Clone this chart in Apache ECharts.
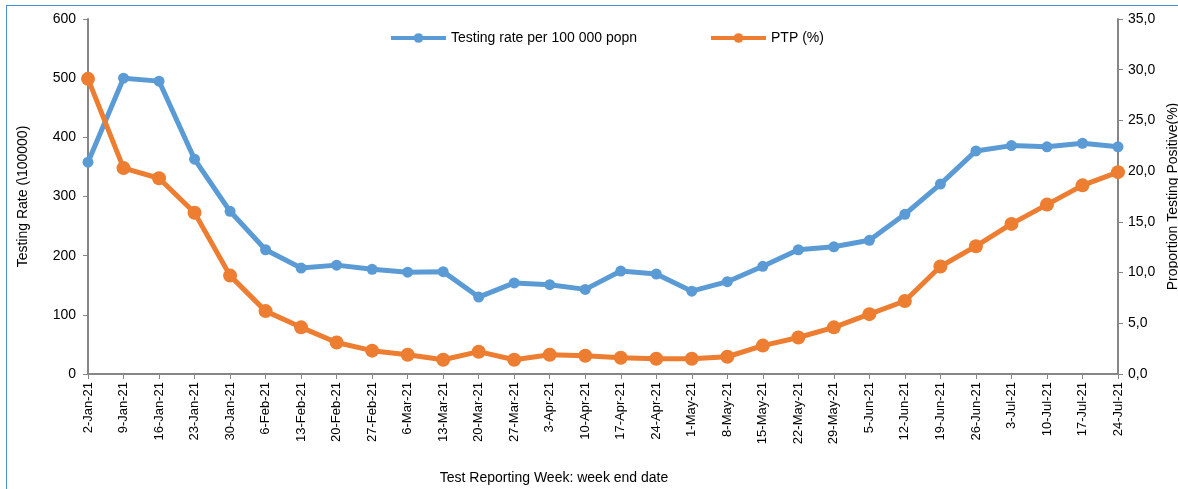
<!DOCTYPE html>
<html>
<head>
<meta charset="utf-8">
<script src="https://cdn.jsdelivr.net/npm/echarts@6/dist/echarts.min.js"></script>
<style>
  html, body { margin: 0; padding: 0; background: #fff; overflow: hidden; width: 1178px; height: 489px; }
  .frame {
    position: absolute; left: 6px; top: 5px; width: 1172px; height: 484px;
    border-left: 1px solid #4a8fd4; border-top: 1px solid #4a8fd4; box-sizing: border-box;
  }
  #main { position: absolute; left: 0; top: 0; width: 1178px; height: 489px; }
</style>
</head>
<body>
<div class="frame"></div>
<div id="main"></div>
<script>
  // week end dates
  var weeks = ['2-Jan-21','9-Jan-21','16-Jan-21','23-Jan-21','30-Jan-21','6-Feb-21','13-Feb-21',
    '20-Feb-21','27-Feb-21','6-Mar-21','13-Mar-21','20-Mar-21','27-Mar-21','3-Apr-21','10-Apr-21',
    '17-Apr-21','24-Apr-21','1-May-21','8-May-21','15-May-21','22-May-21','29-May-21','5-Jun-21',
    '12-Jun-21','19-Jun-21','26-Jun-21','3-Jul-21','10-Jul-21','17-Jul-21','24-Jul-21'];

  // testing rate per 100 000 popn
  var testingRate = [358, 500, 495, 363, 275, 210, 179, 184, 177, 172, 173, 130, 154, 151, 143,
    174, 169, 140, 156, 182, 210, 215, 226, 270, 321, 377, 386, 384, 390, 384];

  // PTP (%)
  var ptp = [29.1, 20.3, 19.3, 15.9, 9.7, 6.2, 4.6, 3.1, 2.3, 1.9, 1.4, 2.2, 1.4, 1.9, 1.8,
    1.6, 1.5, 1.5, 1.7, 2.8, 3.6, 4.6, 5.9, 7.2, 10.6, 12.6, 14.8, 16.7, 18.6, 19.9];

  var font = 'Liberation Sans';
  var axisGray = '#868686';

  var chart = echarts.init(document.getElementById('main'));
  chart.setOption({
    animation: false,
    textStyle: { fontFamily: font },
    legend: {
      top: 26,
      left: 384,
      itemWidth: 55,
      itemHeight: 12,
      itemGap: 72,
      lineStyle: { width: 4 },
      textStyle: { fontSize: 14, color: '#000', fontFamily: font },
      data: ['Testing rate per 100 000 popn', 'PTP (%)']
    },
    grid: { left: 88, right: 60, top: 19, bottom: 115, containLabel: false, outerBoundsMode: 'none' },
    xAxis: {
      type: 'category',
      data: weeks,
      boundaryGap: false,
      name: 'Test Reporting Week: week end date',
      nameLocation: 'middle',
      nameGap: 97,
      nameTextStyle: { fontSize: 14, color: '#000', padding: [0, 98, 0, 0] },
      axisLine: { lineStyle: { color: axisGray, width: 2 } },
      axisTick: { show: true, alignWithLabel: true, length: 5, lineStyle: { color: axisGray } },
      axisLabel: { rotate: 90, fontSize: 13, color: '#000', margin: 8, interval: 0 }
    },
    yAxis: [{
      type: 'value',
      min: 0, max: 600, interval: 100,
      name: 'Testing Rate (\\100000)',
      nameLocation: 'middle',
      nameGap: 58,
      nameTextStyle: { fontSize: 14, color: '#000' },
      splitLine: { show: false },
      axisLine: { show: true, lineStyle: { color: axisGray, width: 2 } },
      axisTick: { show: true, length: 5, lineStyle: { color: axisGray } },
      axisLabel: { fontSize: 14, color: '#000', margin: 12 }
    }, {
      type: 'value',
      min: 0, max: 35, interval: 5,
      name: 'Proportion Testing Positive(%)',
      nameLocation: 'middle',
      nameGap: 39,
      nameRotate: 90,
      nameTextStyle: { fontSize: 14, color: '#000' },
      splitLine: { show: false },
      axisLine: { show: true, lineStyle: { color: axisGray, width: 2 } },
      axisTick: { show: true, length: 5, lineStyle: { color: axisGray } },
      axisLabel: {
        fontSize: 14, color: '#000', margin: 10,
        formatter: function (v) { return v.toFixed(1).replace('.', ','); }
      }
    }],
    series: [{
      name: 'Testing rate per 100 000 popn',
      type: 'line',
      data: testingRate,
      yAxisIndex: 0,
      symbol: 'circle',
      symbolSize: 11,
      lineStyle: { width: 5, color: '#5b9bd5' },
      itemStyle: { color: '#5b9bd5' }
    }, {
      name: 'PTP (%)',
      type: 'line',
      data: ptp,
      yAxisIndex: 1,
      symbol: 'circle',
      symbolSize: 14,
      lineStyle: { width: 5, color: '#ed7d31' },
      itemStyle: { color: '#ed7d31' }
    }]
  });
</script>
</body>
</html>
